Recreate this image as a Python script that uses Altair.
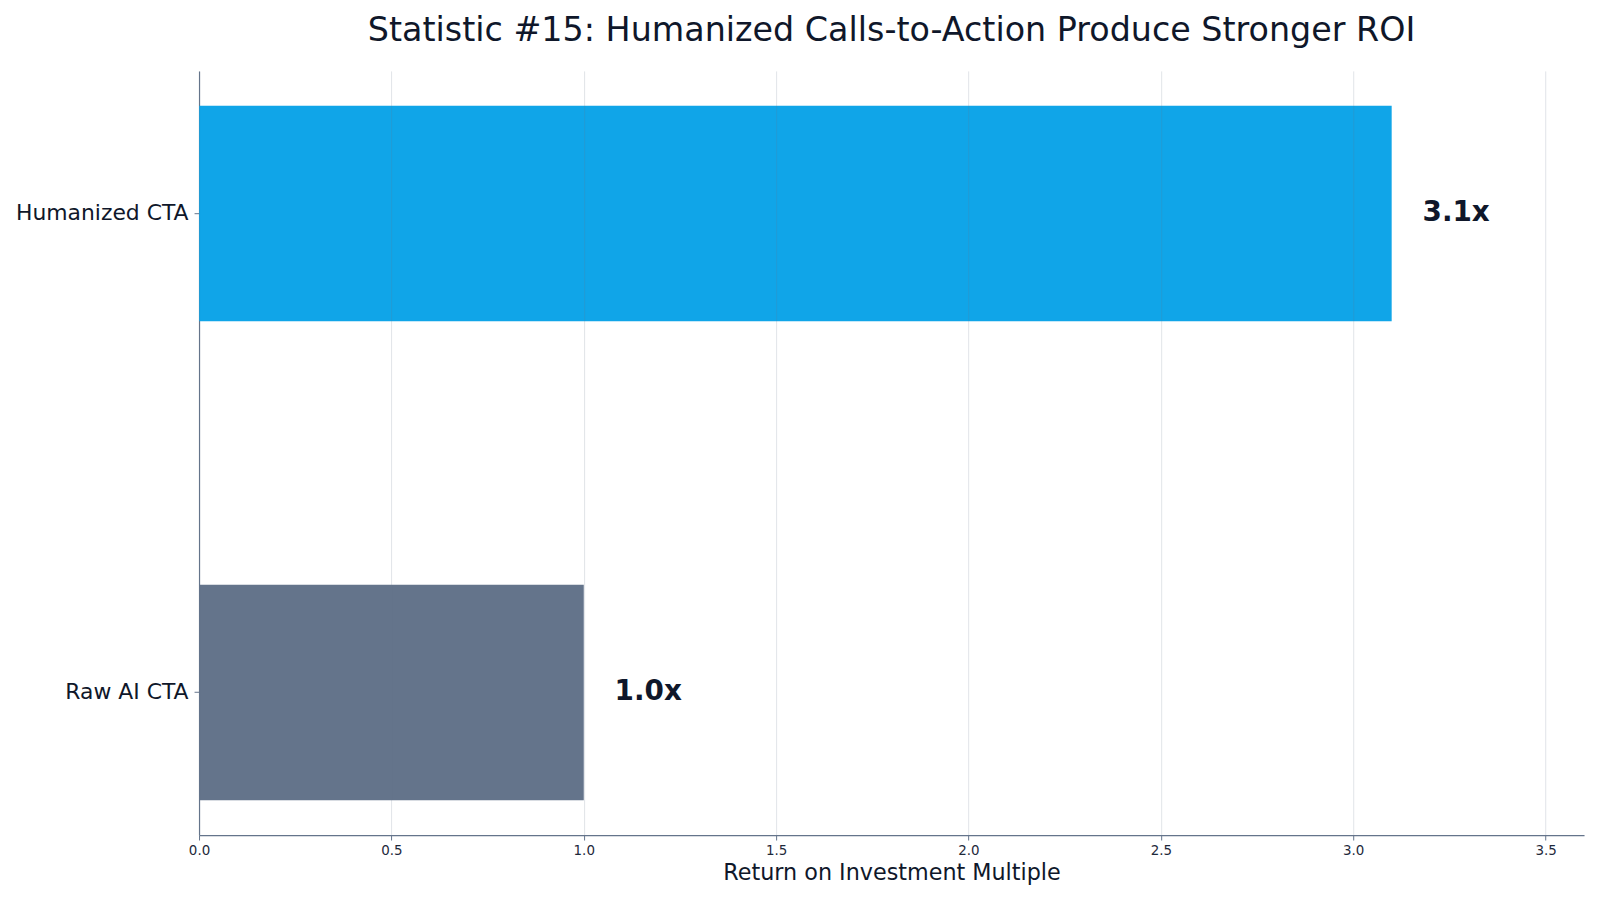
import altair as alt
import pandas as pd

categories = ["Humanized CTA", "Raw AI CTA"]
roi_values = [3.1, 1.0]
value_labels = ["3.1x", "1.0x"]
bar_colors = ["#10a5e8", "#64748b"]
x_ticks = [0.0, 0.5, 1.0, 1.5, 2.0, 2.5, 3.0, 3.5]

df = pd.DataFrame({"cat": categories, "roi": roi_values, "label": value_labels})

FONT = "DejaVu Sans"
TEXT = "#0f172a"

y_enc = alt.Y(
    "cat:N",
    sort=categories,
    title=None,
    scale=alt.Scale(paddingInner=0.55, paddingOuter=0.0725),
    axis=alt.Axis(
        labelFont=FONT, labelFontSize=22, labelColor=TEXT, labelPadding=6,
        tickSize=5, tickColor="#64748b", domainColor="#64748b", domainWidth=1.2,
        grid=False,
    ),
)

bars = alt.Chart(df).mark_bar().encode(
    x=alt.X(
        "roi:Q",
        title="Return on Investment Multiple",
        scale=alt.Scale(domain=[0, 3.6], nice=False, zero=True),
        axis=alt.Axis(
            values=x_ticks, format=".1f", labelFlush=False,
            labelFont=FONT, labelFontSize=13.5, labelColor="#1e293b", labelPadding=4,
            tickSize=5, tickColor="#64748b", domainColor="#64748b", domainWidth=1.2,
            titleFont=FONT, titleFontSize=22.4, titleFontWeight="normal", titleColor=TEXT,
            titlePadding=4,
            grid=True, gridColor="#64748b", gridOpacity=0.2, gridWidth=1,
            zindex=1,
        ),
    ),
    y=y_enc,
    color=alt.Color("cat:N", scale=alt.Scale(domain=categories, range=bar_colors), legend=None),
)

texts = alt.Chart(df).mark_text(
    align="left", baseline="middle", dx=31, font=FONT, fontSize=28,
    fontWeight="bold", color=TEXT,
).encode(
    x="roi:Q",
    y=alt.Y("cat:N", sort=categories),
    text="label:N",
)

chart = (
    alt.layer(bars, texts)
    .properties(
        width=1392,
        height=768,
        background="white",
        title=alt.TitleParams(
            "Statistic #15: Humanized Calls-to-Action Produce Stronger ROI",
            font=FONT, fontSize=33.5, fontWeight="normal", color=TEXT,
            anchor="middle", offset=23,
        ),
        autosize=alt.AutoSizeParams(type="none"),
        padding={"left": 192, "top": 61, "right": 8, "bottom": 55},
    )
    .configure_view(strokeWidth=0)
)

chart.save("out.html", embed_options={"renderer": "svg", "actions": False})
